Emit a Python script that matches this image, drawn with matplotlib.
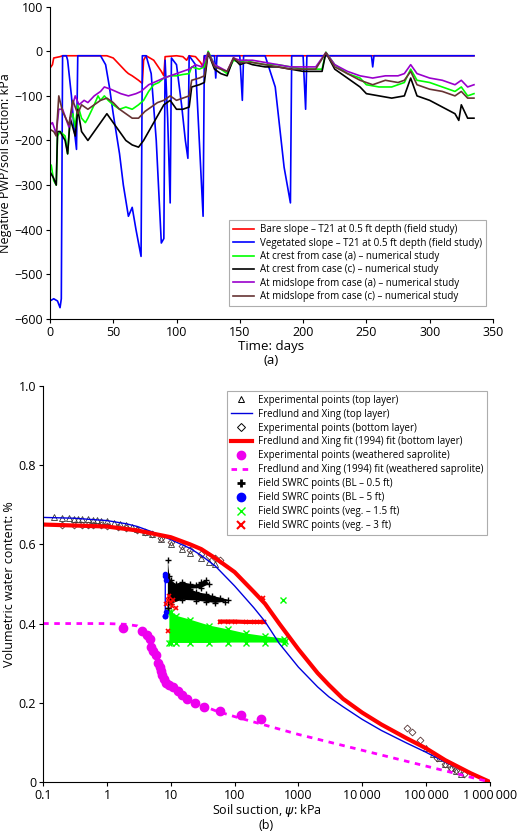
import numpy as np
import matplotlib
matplotlib.use("Agg")
import matplotlib.pyplot as plt
from matplotlib.lines import Line2D

plt.rcParams['font.family'] = ['Open Sans', 'DejaVu Sans']
plt.rcParams['font.size'] = 8

# ---------------- Panel (a) data ----------------
bare = [(0,-38),(2,-30),(3,-15),(8,-12),(10,-10),(45,-10),(50,-15),(55,-30),(60,-45),(62,-50),(65,-55),(70,-65),(73,-72),(74,-20),(76,-10),(82,-20),(88,-45),(90,-55),(91,-12),(100,-10),(105,-12),(108,-20),(110,-10),(115,-12),(119,-25),(121,-35),(122,-10),(335,-10)]
veg = [(0,-560),(3,-555),(6,-560),(8,-575),(9,-555),(10,-10),(13,-10),(14,-20),(17,-100),(19,-170),(21,-220),(22,-10),(40,-10),(44,-30),(47,-80),(50,-140),(55,-230),(58,-300),(62,-370),(65,-350),(68,-400),(72,-460),(73,-10),(76,-10),(80,-50),(84,-200),(88,-430),(90,-420),(91,-20),(93,-150),(95,-340),(96,-15),(100,-30),(104,-120),(107,-200),(109,-240),(110,-10),(115,-30),(118,-200),(121,-370),(122,-10),(130,-10),(131,-60),(132,-10),(150,-10),(152,-110),(153,-10),(170,-10),(178,-80),(185,-260),(190,-340),(191,-10),(200,-10),(202,-130),(203,-10),(254,-10),(255,-35),(256,-10),(335,-10)]
crest_a = [(0,-270),(1,-255),(3,-290),(5,-300),(6,-190),(8,-180),(10,-185),(12,-190),(14,-230),(16,-150),(18,-140),(20,-170),(22,-120),(25,-150),(28,-160),(30,-150),(35,-120),(38,-100),(40,-110),(43,-100),(46,-110),(50,-120),(55,-130),(60,-125),(65,-130),(70,-120),(74,-110),(78,-90),(82,-75),(86,-70),(90,-60),(95,-55),(100,-55),(105,-52),(110,-50),(112,-35),(118,-40),(122,-35),(125,0),(130,-30),(135,-40),(140,-50),(145,-20),(150,-25),(155,-20),(160,-25),(170,-30),(180,-30),(190,-35),(200,-40),(210,-40),(215,-40),(218,-2),(225,-30),(235,-50),(245,-60),(250,-75),(260,-80),(270,-80),(280,-70),(285,-40),(290,-65),(300,-70),(310,-80),(320,-90),(325,-80),(330,-100),(335,-95)]
crest_c = [(0,-270),(3,-285),(5,-300),(6,-180),(8,-180),(12,-200),(14,-230),(16,-150),(20,-190),(22,-130),(25,-180),(30,-200),(35,-180),(40,-160),(45,-140),(50,-160),(55,-180),(60,-200),(65,-210),(70,-215),(74,-200),(78,-180),(82,-160),(86,-140),(90,-120),(95,-110),(100,-130),(105,-130),(110,-125),(112,-80),(118,-75),(122,-70),(125,-3),(130,-40),(135,-50),(140,-55),(145,-15),(150,-30),(155,-25),(160,-30),(170,-35),(180,-35),(190,-40),(200,-45),(210,-45),(215,-45),(218,-3),(225,-40),(235,-60),(245,-80),(250,-95),(260,-100),(270,-105),(280,-100),(285,-60),(290,-100),(300,-110),(310,-125),(320,-140),(323,-155),(325,-120),(330,-150),(335,-150)]
mid_a = [(0,-165),(2,-160),(5,-185),(7,-130),(10,-130),(15,-170),(18,-120),(20,-100),(23,-120),(27,-110),(30,-115),(35,-100),(40,-90),(43,-80),(48,-85),(52,-90),(56,-95),(62,-100),(68,-95),(72,-90),(78,-75),(82,-70),(86,-65),(90,-60),(95,-55),(100,-50),(105,-45),(110,-40),(115,-30),(120,-35),(125,-3),(130,-30),(140,-45),(145,-15),(150,-20),(160,-20),(170,-25),(180,-30),(190,-35),(200,-35),(210,-35),(218,-3),(225,-30),(235,-45),(245,-55),(255,-60),(265,-55),(275,-55),(280,-50),(285,-30),(290,-50),(300,-60),(310,-65),(320,-75),(325,-65),(330,-80),(335,-75)]
mid_c = [(0,-175),(3,-180),(5,-190),(7,-100),(10,-135),(15,-165),(18,-110),(22,-140),(25,-120),(30,-130),(35,-120),(40,-110),(45,-105),(50,-115),(55,-130),(60,-140),(65,-150),(70,-150),(75,-135),(80,-125),(85,-115),(90,-110),(95,-100),(100,-110),(105,-105),(110,-100),(112,-65),(118,-60),(122,-55),(125,-3),(130,-35),(140,-45),(145,-15),(150,-25),(160,-25),(170,-30),(180,-35),(190,-40),(200,-40),(210,-40),(218,-3),(225,-35),(235,-50),(245,-65),(255,-75),(265,-65),(275,-70),(280,-65),(285,-45),(290,-75),(300,-85),(310,-90),(320,-100),(325,-90),(330,-105),(335,-105)]
series_a = [
    (bare, '#ff0000', 'Bare slope \u2013 T21 at 0.5 ft depth (field study)'),
    (veg, '#0000ff', 'Vegetated slope \u2013 T21 at 0.5 ft depth (field study)'),
    (crest_a, '#00ff00', 'At crest from case (a) \u2013 numerical study'),
    (crest_c, '#000000', 'At crest from case (c) \u2013 numerical study'),
    (mid_a, '#9900cc', 'At midslope from case (a) \u2013 numerical study'),
    (mid_c, '#663333', 'At midslope from case (c) \u2013 numerical study'),
]

# ---------------- Panel (b) data ----------------
fx_top_x = [0.1,0.3,1,2,3,5,10,20,30,50,100,200,300,500,1000,2000,3000,5000,10000,20000,50000,100000,200000,500000,1e6]
fx_top_y = [0.668,0.666,0.66,0.652,0.645,0.632,0.612,0.59,0.572,0.545,0.495,0.44,0.405,0.35,0.29,0.24,0.215,0.19,0.158,0.13,0.098,0.075,0.05,0.02,0.0]
fx_bot_x = [0.1,1,3,10,20,30,50,100,200,300,500,1000,2000,3000,5000,10000,20000,50000,100000,200000,500000,1e6]
fx_bot_y = [0.65,0.645,0.635,0.618,0.6,0.588,0.565,0.53,0.48,0.45,0.40,0.335,0.275,0.245,0.21,0.175,0.145,0.11,0.085,0.055,0.022,0.0]
sap_fit_x = [0.1,1,2,3,4,5,6,7,8,10,15,20,50,100,1000,10000,100000,1e6]
sap_fit_y = [0.40,0.40,0.398,0.394,0.38,0.355,0.32,0.29,0.265,0.245,0.22,0.205,0.18,0.165,0.12,0.08,0.04,0.0]
sap_x = [1.8,3.5,4.2,4.8,4.9,5.3,5.8,6.3,6.7,7.0,7.4,7.9,8.5,9.5,11,13,15,18,24,33,60,125,260]
sap_y = [0.39,0.38,0.37,0.36,0.34,0.33,0.32,0.30,0.29,0.28,0.27,0.26,0.25,0.245,0.24,0.23,0.22,0.21,0.20,0.19,0.18,0.17,0.16]
tri_x = [0.15,0.2,0.25,0.3,0.35,0.4,0.5,0.6,0.7,0.8,1.0,1.3,1.6,2,2.5,3,4,5,7,10,15,20,30,40,50,100000,130000,160000,200000,250000,300000,350000]
tri_y = [0.668,0.666,0.666,0.665,0.665,0.664,0.663,0.662,0.661,0.66,0.658,0.655,0.652,0.649,0.645,0.64,0.632,0.625,0.613,0.6,0.588,0.578,0.566,0.556,0.55,0.085,0.07,0.06,0.045,0.035,0.028,0.02]
dia_x = [0.2,0.3,0.4,0.5,0.6,0.8,1.0,1.5,2,3,4,5,7,10,15,20,30,40,50,60,50000,60000,80000,150000,200000,250000,300000,400000]
dia_y = [0.65,0.65,0.65,0.65,0.649,0.648,0.647,0.645,0.642,0.637,0.63,0.625,0.615,0.605,0.595,0.585,0.575,0.57,0.565,0.56,0.135,0.125,0.105,0.06,0.045,0.035,0.03,0.02]
bl05_x = [9,9,9.5,10,12,15,20,25,30,35,40,30,20,25,35,45,60,80,70,50,35,25,15,10,9]
bl05_y = [0.44,0.56,0.52,0.51,0.50,0.505,0.50,0.498,0.505,0.51,0.50,0.49,0.488,0.48,0.475,0.47,0.465,0.46,0.455,0.452,0.455,0.458,0.46,0.45,0.44]
bl5_x = [8,8,8.2,8.4,8.4,8.2,8]
bl5_y = [0.42,0.52,0.525,0.51,0.43,0.42,0.42]
veg15_x = [9.5,10,12,20,40,80,150,300,600,620,600,300,150,80,40,20,12,10,9.5]
veg15_y = [0.43,0.43,0.42,0.41,0.395,0.385,0.375,0.368,0.362,0.355,0.352,0.352,0.352,0.352,0.351,0.351,0.351,0.351,0.352]
veg15_out_x = [580]
veg15_out_y = [0.46]
veg3_x = [8.5,9,9.5,10,10.5,11,12,9,60,80,100,150,200,250,290,280]
veg3_y = [0.45,0.46,0.47,0.455,0.445,0.46,0.44,0.38,0.405,0.405,0.405,0.404,0.404,0.404,0.404,0.465]

fig = plt.figure(figsize=(5.2, 8.39), dpi=100)

# ---- Panel (a)
ax1 = fig.add_axes([0.096, 0.620, 0.852, 0.372])
for data, col, lab in series_a:
    t = [p[0] for p in data]
    v = [p[1] for p in data]
    ax1.plot(t, v, color=col, lw=1.2, label=lab)
ax1.set_xlim(0, 350)
ax1.set_ylim(-600, 100)
ax1.set_xticks(range(0, 351, 50))
ax1.set_yticks(range(-600, 101, 100))
ax1.set_yticklabels(['\u2212600','\u2212500','\u2212400','\u2212300','\u2212200','\u2212100','0','100'])
for s in ['top','right']:
    ax1.spines[s].set_visible(False)
ax1.tick_params(labelsize=9, direction='out', length=3, pad=2)
ax1.set_xlabel('Time: days\n(a)', fontsize=9.5, labelpad=1, linespacing=1.1)
ax1.set_ylabel('Negative PWP/soil suction: kPa', fontsize=9)
ax1.yaxis.set_label_coords(-0.085, 0.5)
leg1 = ax1.legend(loc='lower right', bbox_to_anchor=(0.995, 0.025), fontsize=7, frameon=True,
                  fancybox=False, edgecolor='#999999', handlelength=2.2, borderpad=0.4,
                  labelspacing=0.25, handletextpad=0.6)
leg1.get_frame().set_linewidth(0.8)

# ---- Panel (b)
ax2 = fig.add_axes([0.083, 0.068, 0.859, 0.472])
ax2.set_xscale('log')
ax2.fill(veg15_x, veg15_y, color='#00ff00', lw=0)
ax2.plot(veg15_x, veg15_y, 'x', color='#00ff00', ms=4)
ax2.plot(veg15_out_x, veg15_out_y, 'x', color='#00ff00', ms=4)
ax2.fill(bl05_x, bl05_y, color='black', lw=0)
ax2.plot(bl05_x, bl05_y, '+', color='black', ms=5)
ax2.fill(bl5_x, bl5_y, color='#0000ff', lw=0)
ax2.plot(bl5_x, bl5_y, 'o', color='#0000ff', ms=3)
ax2.plot(veg3_x, veg3_y, 'x', color='#ff0000', ms=3.5, mew=1.2, ls='none')
ax2.plot(veg3_x[8:15], veg3_y[8:15], '-', color='#ff0000', lw=3)
ax2.plot(tri_x, tri_y, '^', mfc='none', mec='#333333', ms=4, mew=0.6, ls='none')
ax2.plot(dia_x, dia_y, 'D', mfc='none', mec='#553333', ms=3.5, mew=0.6, ls='none')
ax2.plot(fx_top_x, fx_top_y, color='#0000dd', lw=1)
ax2.plot(fx_bot_x, fx_bot_y, color='#ff0000', lw=3)
ax2.plot(sap_fit_x, sap_fit_y, color='#ff00ff', lw=2, ls=(0, (2, 2)))
ax2.plot(sap_x, sap_y, 'o', color='#ee00ee', ms=6, ls='none')
ax2.set_xlim(0.1, 1e6)
ax2.set_ylim(0, 1.0)
ax2.set_xticks([0.1,1,10,100,1000,1e4,1e5,1e6])
ax2.set_xticklabels(['0.1','1','10','100','1000','10\u2009000','100\u2009000','1\u2009000\u2009000'])
ax2.xaxis.set_minor_locator(matplotlib.ticker.NullLocator())
ax2.set_yticks([0,0.2,0.4,0.6,0.8,1.0])
ax2.set_yticklabels(['0','0.2','0.4','0.6','0.8','1.0'])
for s in ['top','right']:
    ax2.spines[s].set_visible(False)
ax2.tick_params(labelsize=9, direction='out', length=3, pad=2)
ax2.set_xlabel('Soil suction, $\\psi$: kPa\n(b)', fontsize=9, labelpad=0, linespacing=1.05)
ax2.set_ylabel('Volumetric water content: %', fontsize=9, labelpad=2)

handles = [
    Line2D([], [], marker='^', mfc='none', mec='black', ls='none', ms=5, mew=0.7),
    Line2D([], [], color='#0000dd', lw=1),
    Line2D([], [], marker='D', mfc='none', mec='black', ls='none', ms=4.5, mew=0.7),
    Line2D([], [], color='#ff0000', lw=3),
    Line2D([], [], marker='o', color='#ee00ee', ls='none', ms=6),
    Line2D([], [], color='#ff00ff', lw=2, ls=(0, (2, 2))),
    Line2D([], [], marker='+', color='black', ls='none', ms=6, mew=2),
    Line2D([], [], marker='o', color='#0000ff', ls='none', ms=6),
    Line2D([], [], marker='x', color='#00ff00', ls='none', ms=6, mew=1),
    Line2D([], [], marker='x', color='#ff0000', ls='none', ms=6, mew=1.5),
]
labels = ['Experimental points (top layer)', 'Fredlund and Xing (top layer)',
          'Experimental points (bottom layer)', 'Fredlund and Xing fit (1994) fit (bottom layer)',
          'Experimental points (weathered saprolite)', 'Fredlund and Xing (1994) fit (weathered saprolite)',
          'Field SWRC points (BL \u2013 0.5 ft)', 'Field SWRC points (BL \u2013 5 ft)',
          'Field SWRC points (veg. \u2013 1.5 ft)', 'Field SWRC points (veg. \u2013 3 ft)']
leg2 = ax2.legend(handles, labels, loc='upper right', bbox_to_anchor=(1.005, 1.0), fontsize=7,
                  frameon=True, fancybox=False, edgecolor='#999999', handlelength=2.2,
                  borderpad=0.4, labelspacing=0.3, handletextpad=0.6)
leg2.get_frame().set_linewidth(0.8)

fig.savefig('out.png', dpi=100)
